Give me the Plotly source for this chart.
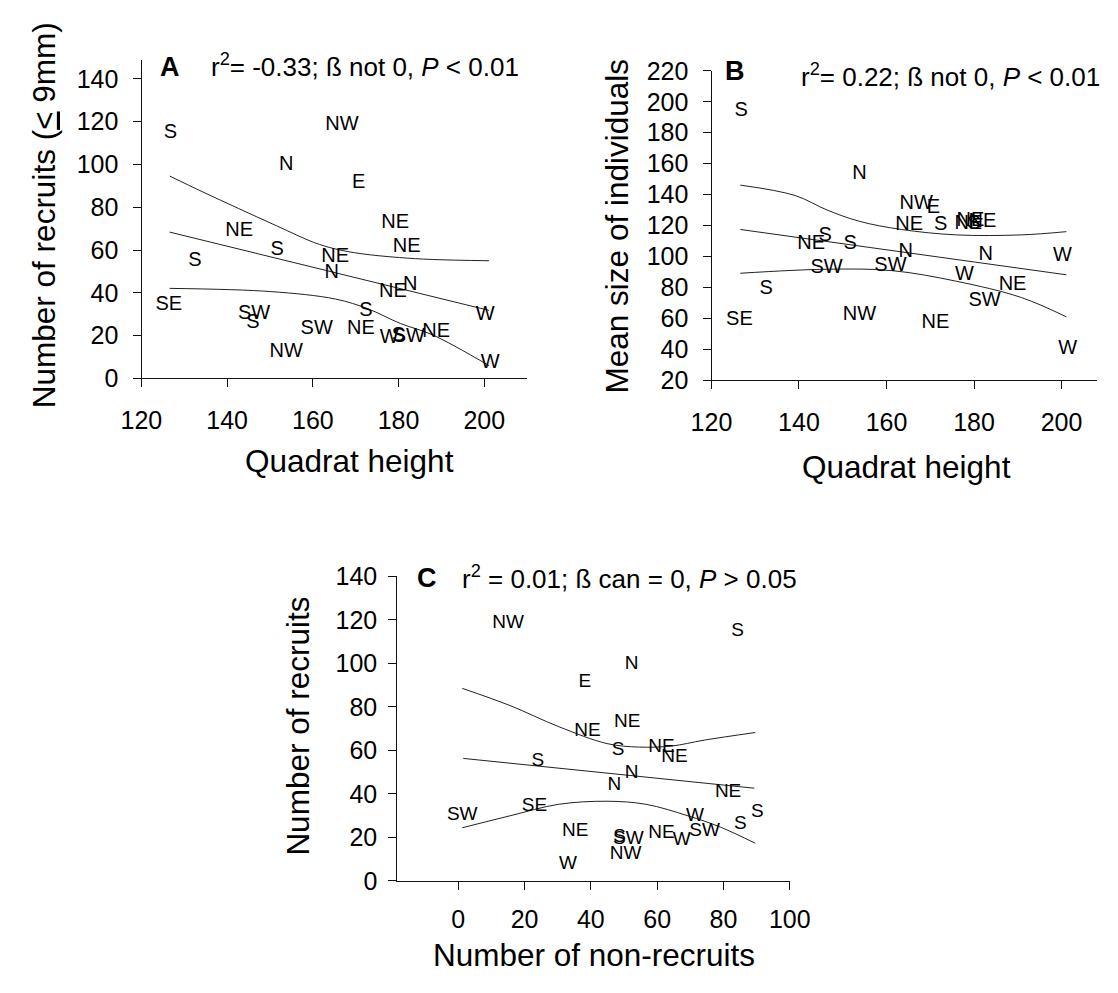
import plotly.graph_objects as go

# ---- quadrat data -------------------------------------------------------
aspect = ["S", "SE", "S", "NE", "SW", "S", "S", "N", "NW", "SW", "NE", "N", "NW",
          "E", "NE", "S", "W", "NE", "NE", "S", "NE", "SW", "N", "NE", "W", "W"]
quadrat_height = [126.8, 126.4, 132.5, 142.8, 146.3, 146.0, 151.7, 153.8, 153.8, 160.9,
                  165.2, 164.4, 166.8, 170.7, 171.2, 172.4, 177.8, 178.7, 179.2, 180.0,
                  181.9, 182.4, 182.7, 188.8, 200.2, 201.4]
recruits = [114.7, 34.4, 54.8, 68.8, 30.2, 25.8, 60.1, 99.8, 12.4, 23.0,
            56.8, 49.5, 118.5, 91.2, 23.0, 31.4, 18.8, 40.5, 72.7, 20.0,
            61.4, 19.2, 43.8, 21.8, 29.8, 7.4]
mean_size = [194.3, 58.7, 79.0, 107.9, 92.6, 113.2, 107.9, 153.0, 61.8, 93.7,
             120.5, 102.7, 133.7, 131.0, 56.6, 120.5, 88.0, 121.0, 123.0, 121.0,
             122.5, 71.3, 100.6, 81.8, 100.2, 39.8]
non_recruits = [84.3, 23.0, 24.0, 39.0, 1.2, 85.1, 48.2, 52.3, 50.5, 74.3,
                65.2, 52.3, 15.0, 38.2, 35.3, 90.2, 67.4, 81.4, 51.0, 48.7,
                61.3, 51.3, 47.1, 61.3, 71.4, 33.1]

# ---- fitted regression lines and 95% confidence bands ---------------------
fit_a_x = [126.6, 201.1]
fit_a_y = [68.4, 31.8]
band_a_upper_x = [126.6, 134.4, 142.6, 151.7, 160.2, 165.3, 171.3, 180.2, 187.9, 201.1]
band_a_upper_y = [94.6, 87.1, 79.5, 71.2, 63.6, 60.5, 58.3, 56.5, 55.6, 55.0]
band_a_lower_x = [126.6, 150.2, 165.3, 172.8, 180.4, 187.9, 201.1]
band_a_lower_y = [42.1, 40.6, 37.1, 32.6, 25.7, 20.4, 6.0]

fit_b_x = [126.6, 201.1]
fit_b_y = [117.4, 88.1]
band_b_upper_x = [126.6, 139.1, 146.4, 153.8, 163.4, 176.0, 190.8, 201.1]
band_b_upper_y = [146.1, 139.4, 130.0, 122.7, 117.4, 113.9, 113.9, 116.0]
band_b_lower_x = [126.6, 146.4, 161.2, 176.0, 190.8, 201.1]
band_b_lower_y = [89.1, 91.7, 90.8, 83.9, 73.4, 60.9]

fit_c_x = [1.5, 89.3]
fit_c_y = [56.3, 42.6]
band_c_upper_x = [1.2, 15.6, 30.3, 44.9, 54.7, 64.4, 74.2, 89.6]
band_c_upper_y = [88.5, 80.6, 70.9, 63.1, 61.5, 62.0, 64.7, 68.2]
band_c_lower_x = [1.2, 15.6, 30.3, 44.9, 56.6, 69.3, 79.1, 89.6]
band_c_lower_y = [24.4, 29.9, 35.2, 36.6, 35.2, 29.9, 24.7, 17.3]

# ---- tick values ---------------------------------------------------------
height_ticks = [120, 140, 160, 180, 200]
recruit_ticks = [0, 20, 40, 60, 80, 100, 120, 140]
size_ticks = [20, 40, 60, 80, 100, 120, 140, 160, 180, 200, 220]
nonrecruit_ticks = [0, 20, 40, 60, 80, 100]

# ---- page geometry (pixels) ----------------------------------------------
W, H = 1118, 993
FONT = "Liberation Sans, Arial, sans-serif"


def fx(px):
    return px / W


def fy(py):
    return 1 - py / H


fig = go.Figure()

label_font_ab = dict(family=FONT, size=20, color="black")
label_font_c = dict(family=FONT, size=19, color="black")
line_style = dict(color="#222222", width=1)


def add_panel(xs, ys, bands, xa, ya, font):
    """Regression line, confidence bands and aspect-labelled quadrats."""
    for bx, by, shape in bands:
        fig.add_trace(go.Scatter(
            x=bx, y=by, mode="lines", xaxis=xa, yaxis=ya,
            line=dict(shape=shape, smoothing=1.0, **line_style),
            hoverinfo="skip", showlegend=False))
    fig.add_trace(go.Scatter(
        x=xs, y=ys, text=aspect, mode="text", xaxis=xa, yaxis=ya,
        textposition="middle center", textfont=font, cliponaxis=False,
        hoverinfo="skip", showlegend=False))


add_panel(quadrat_height, recruits,
          [(fit_a_x, fit_a_y, "linear"),
           (band_a_upper_x, band_a_upper_y, "spline"),
           (band_a_lower_x, band_a_lower_y, "spline")],
          "x", "y", label_font_ab)
add_panel(quadrat_height, mean_size,
          [(fit_b_x, fit_b_y, "linear"),
           (band_b_upper_x, band_b_upper_y, "spline"),
           (band_b_lower_x, band_b_lower_y, "spline")],
          "x2", "y2", label_font_ab)
add_panel(non_recruits, recruits,
          [(fit_c_x, fit_c_y, "linear"),
           (band_c_upper_x, band_c_upper_y, "spline"),
           (band_c_lower_x, band_c_lower_y, "spline")],
          "x3", "y3", label_font_c)

axis_common = dict(
    showline=True, linecolor="#111111", linewidth=1,
    ticks="outside", ticklen=8, tickwidth=1, tickcolor="#111111",
    showgrid=False, zeroline=False,
    tickfont=dict(family=FONT, size=25, color="black"),
)

fig.update_layout(
    width=W, height=H,
    margin=dict(l=0, r=0, t=0, b=0),
    paper_bgcolor="white", plot_bgcolor="white",
    showlegend=False,
    # panel A
    xaxis=dict(domain=[fx(124.5), fx(530.8)], range=[118, 210], anchor="y",
               tickvals=height_ticks, ticklabelstandoff=12, **axis_common),
    yaxis=dict(domain=[fy(375), fy(47)], range=[0, 149], anchor="free",
               position=fx(133.3), tickvals=recruit_ticks,
               ticklabelstandoff=10, **axis_common),
    # panel B
    xaxis2=dict(domain=[fx(711.7), 1.0], range=[118, 208.1], anchor="y2",
                tickvals=height_ticks, ticklabelstandoff=12, **axis_common),
    yaxis2=dict(domain=[fy(376.7), fy(58.5)], range=[20, 220], anchor="free",
                position=fx(720.7), tickvals=size_ticks,
                ticklabelstandoff=10, **axis_common),
    # panel C
    xaxis3=dict(domain=[fx(397), fx(801.4)], range=[-18.4, 100], anchor="y3",
                tickvals=nonrecruit_ticks, ticklabelstandoff=8, **axis_common),
    yaxis3=dict(domain=[fy(892), fy(578)], range=[0, 140.3], anchor="x3",
                tickvals=recruit_ticks, ticklabelstandoff=6, **axis_common),
)

title_font = dict(family=FONT, size=31.5, color="black")
stat_font = dict(family=FONT, size=26, color="black")
letter_font = dict(family=FONT, size=27, color="black")

annotations = [
    # axis titles
    dict(x=fx(33), y=fy(207), text="Number of recruits (<span style='text-decoration:underline'>&lt;</span> 9mm)",
         textangle=-90, font=title_font),
    dict(x=fx(348), y=fy(460), text="Quadrat height", font=title_font),
    dict(x=fx(623), y=fy(219), text="Mean size of individuals", textangle=-90, font=title_font),
    dict(x=fx(922), y=fy(466), text="Quadrat height", font=title_font),
    dict(x=fx(295), y=fy(733), text="Number of recruits", textangle=-90, font=title_font),
    dict(x=fx(600), y=fy(968), text="Number of non-recruits", font=title_font),
    # panel letters
    dict(x=fx(163), y=fy(55), text="<b>A</b>", font=letter_font),
    dict(x=fx(745), y=fy(59), text="<b>B</b>", font=letter_font),
    dict(x=fx(428), y=fy(580), text="<b>C</b>", font=letter_font),
    # regression statistics
    dict(x=fx(203), y=fy(53), xanchor="left",
         text="r<sup>2</sup>= -0.33; ß not 0, <i>P</i> &lt; 0.01", font=stat_font),
    dict(x=fx(811), y=fy(63), xanchor="left",
         text="r<sup>2</sup>= 0.22; ß not 0, <i>P</i> &lt; 0.01", font=stat_font),
    dict(x=fx(462), y=fy(580), xanchor="left",
         text="r<sup>2</sup> = 0.01; ß can = 0, <i>P</i> &gt; 0.05", font=stat_font),
]
for a in annotations:
    a.setdefault("xanchor", "center")
    a.setdefault("yanchor", "middle")
    fig.add_annotation(xref="paper", yref="paper", showarrow=False, **a)

fig.write_html("out.html")
